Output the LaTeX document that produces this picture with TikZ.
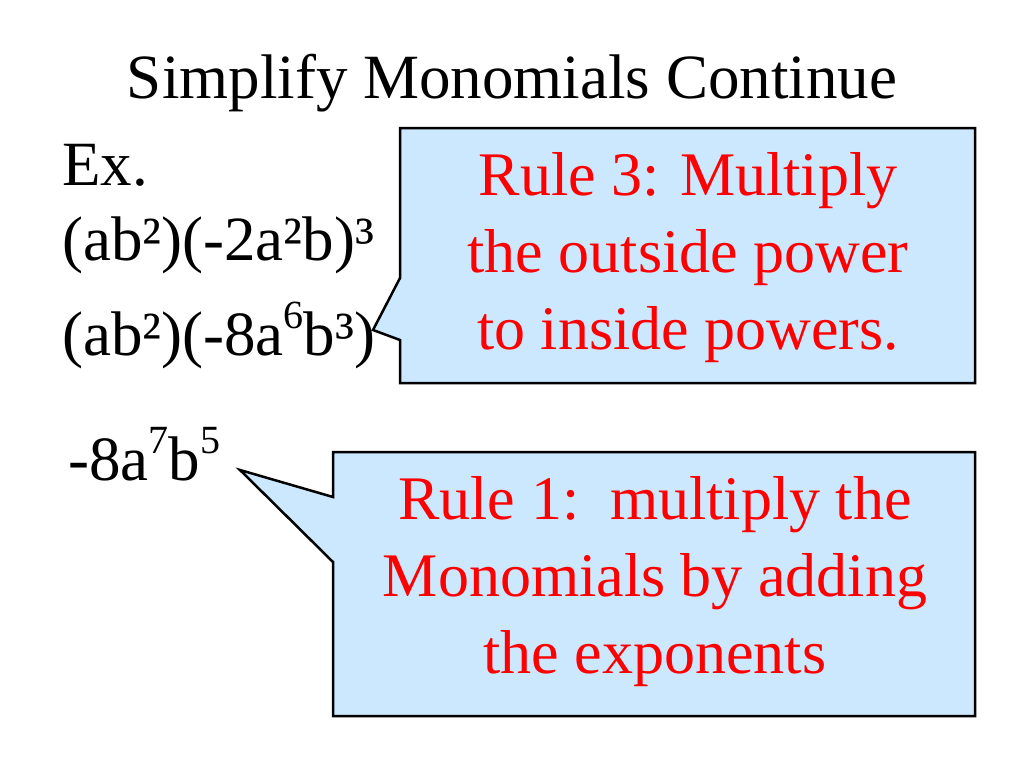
\documentclass[tikz,border=0pt]{standalone}
\usepackage{fontspec}
\setmainfont{Liberation Serif}
\begin{document}
\begin{tikzpicture}[x=1pt,y=-1pt,
  callout/.style={draw=black,line width=2.5pt,fill={rgb,255:red,204;green,232;blue,255},line join=miter},
  big/.style={font=\fontsize{63}{70}\selectfont,anchor=base west,inner sep=0},
  red/.style={text=red,font=\fontsize{62}{77}\selectfont,align=center,inner sep=0}]
\useasboundingbox (0,0) rectangle (1024,768);
\node[big,anchor=base] (title) at (512,98) {Simplify Monomials Continue};
\node[big] (ex) at (62,185) {Ex.};
\node[big] (l2) at (62,260) {(ab²)(-2a²b)³};
\node[big] (l3) at (62,355) {(ab²)(-8a\raisebox{0.42em}{\fontsize{40}{40}\selectfont 6}b³)};
\node[big] (l4) at (68,480) {-8a\raisebox{0.42em}{\fontsize{40}{40}\selectfont 7}b\raisebox{0.42em}{\fontsize{40}{40}\selectfont 5}};
\draw[callout] (400,128) -- (975,128) -- (975,383) -- (400,383) -- (400,340) -- (373,330) -- (400,278) -- cycle;
\draw[callout] (333,452) -- (975,452) -- (975,716) -- (333,716) -- (333,562) -- (240,470) -- (333,497) -- cycle;
\node[red] (r3) at (688,258) {Rule 3: Multiply\\the outside power\\to inside powers.};
\node[red] (r1) at (655,582) {Rule 1:\ \ multiply the\\Monomials by adding\\the exponents};
\end{tikzpicture}
\end{document}
